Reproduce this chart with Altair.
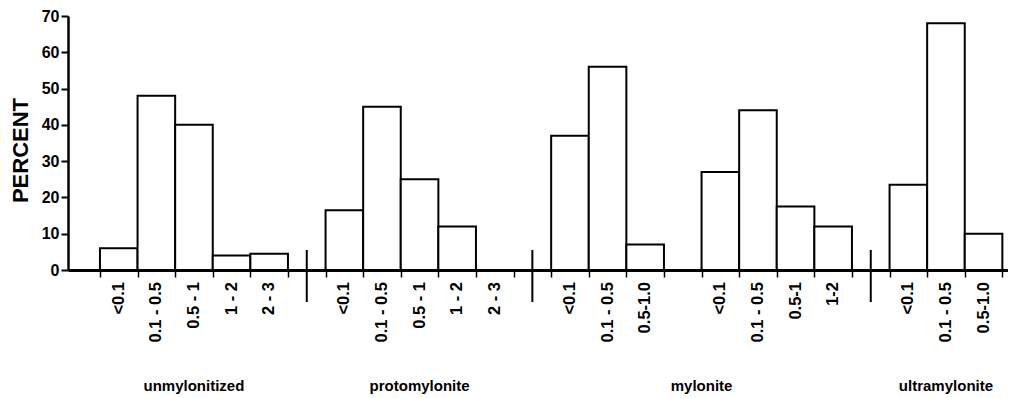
import altair as alt
import pandas as pd

# ---- data ----
panel_groups = ["unmylonitized", "protomylonite", "mylonite", "mylonite", "ultramylonite"]

bins_unmylonitized = ["<0.1", "0.1 - 0.5", "0.5 - 1", "1 - 2", "2 - 3"]
values_unmylonitized = [6, 48, 40, 4, 4.5]

bins_protomylonite = ["<0.1", "0.1 - 0.5", "0.5 - 1", "1 - 2", "2 - 3"]
values_protomylonite = [16.5, 45, 25, 12, 0]

bins_mylonite_a = ["<0.1", "0.1 - 0.5", "0.5-1.0"]
values_mylonite_a = [37, 56, 7]

bins_mylonite_b = ["<0.1", "0.1 - 0.5", "0.5-1", "1-2"]
values_mylonite_b = [27, 44, 17.5, 12]

bins_ultramylonite = ["<0.1", "0.1 - 0.5", "0.5-1.0"]
values_ultramylonite = [23.5, 68, 10]

y_ticks = [0, 10, 20, 30, 40, 50, 60, 70]

panel_bins = [bins_unmylonitized, bins_protomylonite, bins_mylonite_a,
              bins_mylonite_b, bins_ultramylonite]
panel_values = [values_unmylonitized, values_protomylonite, values_mylonite_a,
                values_mylonite_b, values_ultramylonite]

# ---- build tables (slot layout: one empty slot after each panel) ----
rows, seps = [], []
pos = 0.85
for i, (g, bins, vals) in enumerate(zip(panel_groups, panel_bins, panel_values)):
    for b, v in zip(bins, vals):
        rows.append({"group": g, "bin": b, "value": v,
                     "x0": pos, "x1": pos + 1, "xc": pos + 0.5})
        pos += 1
    if i + 1 < len(panel_groups) and panel_groups[i + 1] != g:
        seps.append({"xs": pos + 0.5})
    pos += 1

df = pd.DataFrame(rows)
sep_df = pd.DataFrame(seps)
grp_df = df.groupby("group", sort=False).agg(x0=("x0", "min"), x1=("x1", "max")).reset_index()
grp_df["xg"] = (grp_df["x0"] + grp_df["x1"]) / 2
edges = sorted(set(df["x0"].round(3)).union(set(df["x1"].round(3))))

FONT = "Liberation Sans"
xscale = alt.Scale(domain=[0, 25], nice=False, zero=False)
yscale = alt.Scale(domain=[0, 70], nice=False)
xaxis = alt.Axis(values=edges, labels=False, ticks=True, tickSize=7,
                 tickWidth=1.5, tickColor="black", domain=True, domainColor="black",
                 domainWidth=3, grid=False, title=None, zindex=1)

bars = alt.Chart(df).mark_rect(fill="white", stroke="black", strokeWidth=2).encode(
    x=alt.X("x0:Q", scale=xscale, axis=xaxis),
    x2="x1:Q",
    y=alt.Y("value:Q", scale=yscale,
            axis=alt.Axis(values=y_ticks, tickSize=7, tickWidth=2, tickColor="black",
                          domainColor="black", domainWidth=2.5, grid=False,
                          labelFont=FONT, labelFontSize=16, labelFontWeight="bold",
                          labelColor="black", labelPadding=2,
                          title="PERCENT", titleFont=FONT, titleFontSize=22,
                          titleFontWeight="bold", titleColor="black",
                          titleAngle=270, titleAlign="center", titleBaseline="middle",
                          titleX=-48, titleY=134, zindex=1)),
    y2=alt.datum(0),
)

bar_labels = alt.Chart(df).mark_text(
    angle=270, align="right", baseline="middle", font=FONT, fontSize=16.5,
    fontWeight="bold", color="black"
).encode(
    x=alt.X("xc:Q", scale=xscale, axis=xaxis),
    y=alt.value(266),
    text="bin:N",
)

separators = alt.Chart(sep_df).mark_rule(color="black", strokeWidth=2).encode(
    x=alt.X("xs:Q", scale=xscale, axis=xaxis),
    y=alt.value(234),
    y2=alt.value(286),
)

group_labels = alt.Chart(grp_df).mark_text(
    align="center", baseline="middle", font=FONT, fontSize=15,
    fontWeight="bold", color="black"
).encode(
    x=alt.X("xg:Q", scale=xscale, axis=xaxis),
    y=alt.value(370),
    text="group:N",
)

chart = alt.layer(bars, bar_labels, separators, group_labels).properties(
    width=940, height=254,
    autosize=alt.AutoSizeParams(type="none"),
    padding={"left": 60, "top": 8, "right": 0, "bottom": 126},
).configure_view(stroke=None)

chart.save("out.html", embed_options={"renderer": "svg", "actions": False})
